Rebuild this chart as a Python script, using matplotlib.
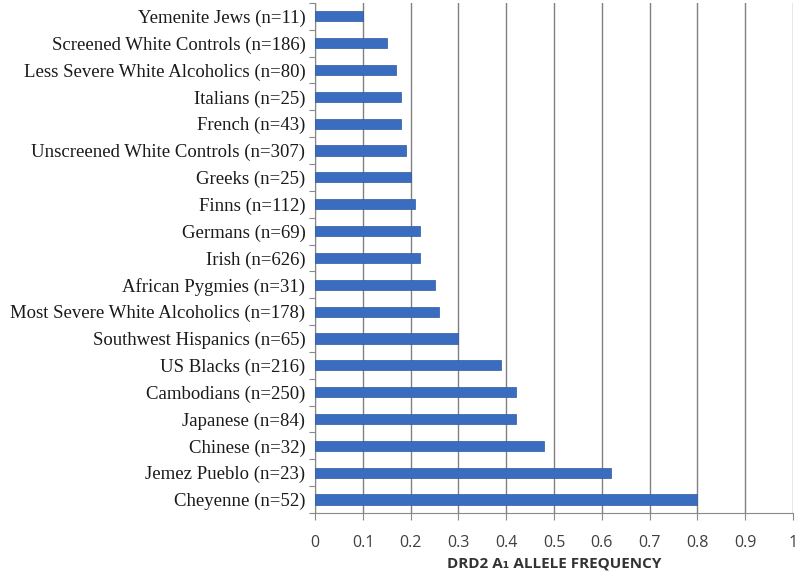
import matplotlib
matplotlib.use("Agg")
import matplotlib.pyplot as plt
import numpy as np

categories = [
    "Yemenite Jews (n=11)",
    "Screened White Controls (n=186)",
    "Less Severe White Alcoholics (n=80)",
    "Italians (n=25)",
    "French (n=43)",
    "Unscreened White Controls (n=307)",
    "Greeks (n=25)",
    "Finns (n=112)",
    "Germans (n=69)",
    "Irish (n=626)",
    "African Pygmies (n=31)",
    "Most Severe White Alcoholics (n=178)",
    "Southwest Hispanics (n=65)",
    "US Blacks (n=216)",
    "Cambodians (n=250)",
    "Japanese (n=84)",
    "Chinese (n=32)",
    "Jemez Pueblo (n=23)",
    "Cheyenne (n=52)",
]
frequencies = [0.10, 0.15, 0.17, 0.18, 0.18, 0.19, 0.20, 0.21, 0.22, 0.22,
               0.25, 0.26, 0.30, 0.39, 0.42, 0.42, 0.48, 0.62, 0.80]
x_ticks = [0, 0.1, 0.2, 0.3, 0.4, 0.5, 0.6, 0.7, 0.8, 0.9, 1]
x_tick_labels = ["0", "0.1", "0.2", "0.3", "0.4", "0.5", "0.6", "0.7", "0.8", "0.9", "1"]
x_label = "DRD2 A\u2081 ALLELE FREQUENCY"

fig = plt.figure(figsize=(8, 5.78), dpi=100)
ax = fig.add_axes([0.394, 0.1125, 0.597, 0.8825])

n = len(categories)
ypos = np.arange(n)
ax.barh(ypos, frequencies, height=0.38, color="#3A6DBF", edgecolor="#2C5AA0",
        linewidth=0.5, zorder=3)
ax.set_ylim(n - 0.5, -0.5)
ax.set_xlim(0, 1)

# category labels at centers (minor), tick marks at boundaries (major)
ax.set_yticks(np.arange(-0.5, n, 1.0))
ax.set_yticklabels([])
ax.set_yticks(ypos, minor=True)
ax.set_yticklabels(categories, minor=True, family=["Liberation Serif", "DejaVu Serif"],
                   fontsize=13.5, color="#1a1a1a")
ax.tick_params(axis="y", which="minor", length=0, pad=7)
ax.tick_params(axis="y", which="major", length=4, color="#888888", direction="out")

ax.set_xticks(x_ticks)
ax.set_xticklabels(x_tick_labels, family=["Open Sans", "DejaVu Sans"], fontsize=11.5,
                   color="#404040")
ax.tick_params(axis="x", length=5, color="#888888", direction="out", pad=10.5)

ax.xaxis.grid(True, color="#808080", linewidth=1.0, zorder=0)
ax.yaxis.grid(False)
for s in ["top", "right"]:
    ax.spines[s].set_visible(False)
ax.spines["left"].set_color("#888888")
ax.spines["bottom"].set_color("#888888")

ax.set_xlabel(x_label, family=["Open Sans", "DejaVu Sans"], fontsize=11,
              fontweight="bold", color="#333333", labelpad=4)

fig.savefig("out.png", dpi=100)
